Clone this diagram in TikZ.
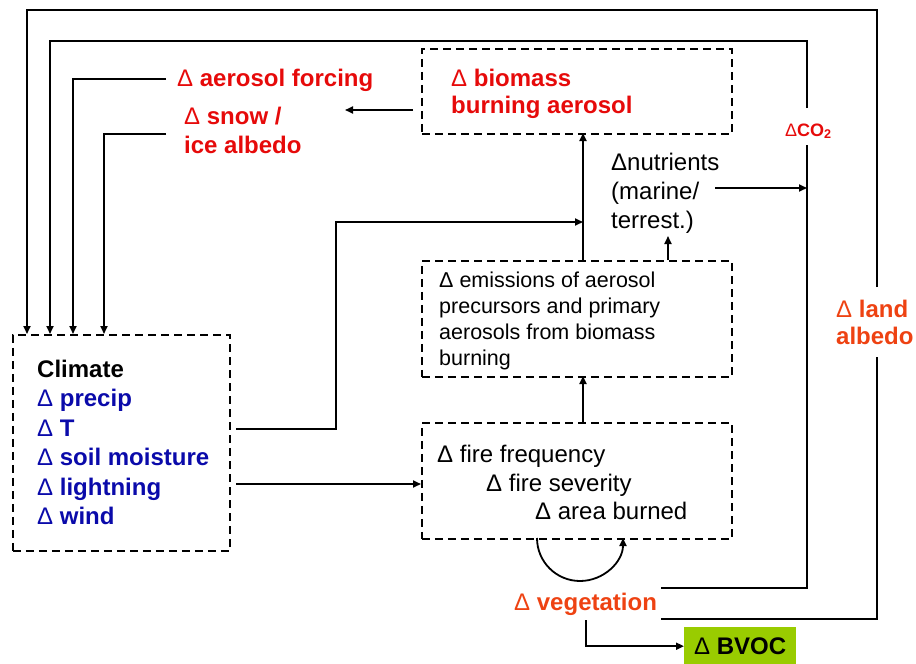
\documentclass[tikz,border=0pt]{standalone}
\usepackage{fontspec}
\setmainfont{Liberation Sans}
\usetikzlibrary{arrows.meta}
\definecolor{myred}{RGB}{230,10,10}
\definecolor{myorange}{RGB}{238,66,18}
\definecolor{myblue}{RGB}{10,10,170}
\definecolor{mygreen}{RGB}{153,204,0}
\newcommand\mydelta{{\mdseries Δ}}
\newcommand\mylines[1]{\begin{tabular}[t]{@{}l@{}}#1\end{tabular}}
\begin{document}
\begin{tikzpicture}[x=1pt,y=-1pt,
  dbox/.style={draw, dash pattern=on 8pt off 5pt, line width=1.5pt, inner sep=0pt, anchor=north west},
  lbl/.style={anchor=base west, inner sep=0pt},
  con/.style={line width=1.8pt},
  arr/.style={con, -{Triangle[length=8pt,width=7pt]}},
]
\useasboundingbox (0,0) rectangle (916,664);
% boxes
\node[dbox, minimum width=310, minimum height=85] (biobox) at (421,48) {};
\node[dbox, minimum width=310, minimum height=116] (emisbox) at (421,260) {};
\node[dbox, minimum width=310, minimum height=116] (firebox) at (421,422) {};
\node[dbox, minimum width=217, minimum height=216] (climbox) at (12,334) {};
\node[fill=mygreen, minimum width=112, minimum height=38, anchor=north west, inner sep=0pt,
      font=\fontsize{24}{27}\selectfont\bfseries] (bvoc) at (684,627) {\mydelta{} BVOC};
% texts
\node[lbl, font=\fontsize{24}{27}\selectfont\bfseries, text=myred] (bio) at (451,86)
  {\mylines{\mydelta{} biomass\\burning aerosol}};
\node[lbl, font=\fontsize{24}{27}\selectfont\bfseries, text=myred] (aerf) at (177,86)
  {\mydelta{} aerosol forcing};
\node[lbl, font=\fontsize{24}{29}\selectfont\bfseries, text=myred] (snow) at (184,124)
  {\mylines{\mydelta{} snow /\\ice albedo}};
\node[lbl, font=\fontsize{18}{20}\selectfont\bfseries, text=myred] (co2) at (785,136)
  {\mydelta CO\textsubscript{2}};
\node[lbl, font=\fontsize{24}{29}\selectfont] (nutr) at (611,170)
  {\mylines{\mydelta nutrients\\(marine/\\terrest.)}};
\node[lbl, font=\fontsize{21.5}{26}\selectfont] (emis) at (439,287)
  {\mylines{\mydelta{} emissions of aerosol\\precursors and primary\\aerosols from biomass\\burning}};
\node[lbl, font=\fontsize{24}{27}\selectfont\bfseries, text=myorange] (land) at (836,317)
  {\mylines{\mydelta{} land\\albedo}};
\node[lbl, font=\fontsize{24}{29.5}\selectfont\bfseries] (clim) at (37,377)
  {\mylines{Climate\\
  \textcolor{myblue}{\mydelta{} precip}\\
  \textcolor{myblue}{\mydelta{} T}\\
  \textcolor{myblue}{\mydelta{} soil moisture}\\
  \textcolor{myblue}{\mydelta{} lightning}\\
  \textcolor{myblue}{\mydelta{} wind}}};
\node[lbl, font=\fontsize{24}{29}\selectfont] (fire1) at (437,462) {\mydelta{} fire frequency};
\node[lbl, font=\fontsize{24}{29}\selectfont] (fire2) at (486,491) {\mydelta{} fire severity};
\node[lbl, font=\fontsize{24}{29}\selectfont] (fire3) at (535,519) {\mydelta{} area burned};
\node[lbl, font=\fontsize{24}{29}\selectfont\bfseries, text=myorange] (veg) at (514,610)
  {\mydelta{} vegetation};
% coordinates
\coordinate (vA) at (661,619);
\coordinate (vB) at (661,588);
\coordinate (laBot) at (877,357);
\coordinate (laTop) at (877,287);
\coordinate (coBot) at (807,145);
\coordinate (coTop) at (807,108);
\coordinate (in1) at (27,334);
\coordinate (in2) at (50,334);
\coordinate (in3) at (73,334);
\coordinate (in4) at (104,334);
\coordinate (aerEnd) at (166,79);
\coordinate (snowEnd) at (166,134);
\coordinate (bioOut) at (413,110);
\coordinate (bioArr) at (345,110);
\coordinate (climOut1) at (236,429);
\coordinate (climOut2) at (236,484);
\coordinate (emisTop) at (583,260);
\coordinate (bioBot) at (583,133);
\coordinate (fireTop) at (583,422);
\coordinate (emisBot) at (583,376);
\coordinate (nutOut) at (715,188);
\coordinate (nutIn) at (807,188);
\coordinate (emisTop2) at (668,260);
\coordinate (nutBot) at (668,236);
\coordinate (arcS) at (537,538);
\coordinate (vegDown) at (586,620);
% connectors
\draw[con] (vA) -| (laBot);
\draw[arr] (laTop) -- (877,10) -| (in1);
\draw[con] (vB) -| (coBot);
\draw[arr] (coTop) -- (807,41) -| (in2);
\draw[arr] (aerEnd) -| (in3);
\draw[arr] (snowEnd) -| (in4);
\draw[arr] (bioOut) -- (bioArr);
\draw[arr] (climOut1) -- (336,429) -- (336,222) -- (583,222);
\draw[arr] (emisTop) -- (bioBot);
\draw[arr] (climOut2) -- (climOut2 -| firebox.west);
\draw[arr] (fireTop) -- (emisBot);
\draw[arr] (nutOut) -- (nutIn);
\draw[arr] (emisTop2) -- (nutBot);
\draw[arr] (arcS) arc[start angle=180, end angle=0, radius=43];
\draw[arr] (vegDown) |- (bvoc.west);
\end{tikzpicture}
\end{document}
